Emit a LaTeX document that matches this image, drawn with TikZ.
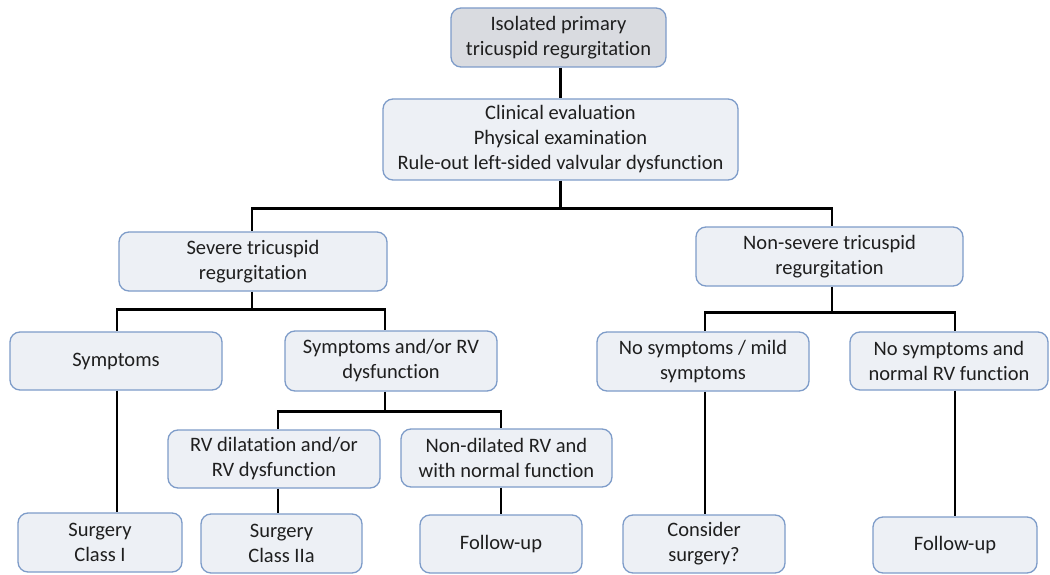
\documentclass[tikz,border=0pt]{standalone}
\usepackage{fontspec}
\setmainfont{Carlito}[Ligatures=NoCommon]
\usetikzlibrary{calc}
\definecolor{boxfill}{HTML}{EDF0F5}
\definecolor{topfill}{HTML}{D9DBE0}
\definecolor{boxline}{HTML}{7E9CC9}
\tikzset{
  box/.style={draw=boxline, line width=1.3pt, fill=boxfill, rounded corners=10pt,
    align=center, inner sep=0pt, font=\fontsize{20.5}{25}\selectfont, text=black!88},
  conn/.style={draw=black, line width=2.4pt}
}
\begin{document}
\begin{tikzpicture}[x=1pt,y=-1pt]
\useasboundingbox (0,0) rectangle (1050,575);
\fill[white] (0,0) rectangle (1050,575);
% nodes
\node[box,fill=topfill,minimum width=215pt,minimum height=59pt] (top) at (558.5,37.5) {Isolated primary\\tricuspid regurgitation};
\node[box,minimum width=355pt,minimum height=81pt] (clin) at (560.5,139.5) {Clinical evaluation\\Physical examination\\Rule-out left-sided valvular dysfunction};
\node[box,minimum width=268pt,minimum height=59pt] (sev) at (253,261.5) {Severe tricuspid\\regurgitation};
\node[box,minimum width=267pt,minimum height=59pt] (nsev) at (829.5,256.5) {Non-severe tricuspid\\regurgitation};
\node[box,minimum width=212pt,minimum height=58pt] (sym) at (116,361) {Symptoms};
\node[box,minimum width=212pt,minimum height=60pt] (symrv) at (391,361) {Symptoms and/or RV\\dysfunction};
\node[box,minimum width=212pt,minimum height=59pt] (nosym) at (703,361.5) {No symptoms / mild\\symptoms};
\node[box,minimum width=198pt,minimum height=58pt] (nosymrv) at (949,361) {No symptoms and\\normal RV function};
\node[box,minimum width=212pt,minimum height=58pt] (rvdil) at (274,459) {RV dilatation and/or\\RV dysfunction};
\node[box,minimum width=211pt,minimum height=58pt] (nondil) at (506.5,458) {Non-dilated RV and\\with normal function};
\node[box,minimum width=164pt,minimum height=59pt] (s1) at (100,542.5) {Surgery\\Class I};
\node[box,minimum width=161pt,minimum height=59pt] (s2) at (281.5,543.5) {Surgery\\Class IIa};
\node[box,minimum width=162pt,minimum height=58pt] (fu1) at (501,544) {Follow-up};
\node[box,minimum width=162pt,minimum height=58pt] (cons) at (704,544) {Consider\\surgery?};
\node[box,minimum width=164pt,minimum height=56pt] (fu2) at (955,545) {Follow-up};
% junctions
\coordinate (j1) at ($(clin.south)+(0,28)$);
\coordinate (j2) at ($(sev.south)+(-1,18)$);
\coordinate (j3) at ($(nsev.south)+(2.5,26)$);
\coordinate (j4) at ($(symrv.south)+(-6,20)$);
% connectors
\draw[conn] (top.south -| clin.north) -- (clin.north);
\draw[conn] (clin.south) -- (j1);
\draw[conn] (j1) -| ([xshift=-1pt]sev.north);
\draw[conn] (j1) -| ([xshift=2.5pt]nsev.north);
\draw[conn] ([xshift=-1pt]sev.south) -- (j2);
\draw[conn] (j2) -| ([xshift=1pt]sym.north);
\draw[conn] (j2) -| ([xshift=-6pt]symrv.north);
\draw[conn] ([xshift=2.5pt]nsev.south) -- (j3);
\draw[conn] (j3) -| ([xshift=2pt]nosym.north);
\draw[conn] (j3) -| ([xshift=6pt]nosymrv.north);
\draw[conn] ([xshift=1pt]sym.south) -- ([xshift=1pt]sym.south |- s1.north);
\draw[conn] ([xshift=-6pt]symrv.south) -- (j4);
\draw[conn] (j4) -| ([xshift=4pt]rvdil.north);
\draw[conn] (j4) -| ([xshift=-5.5pt]nondil.north);
\draw[conn] ([xshift=4pt]rvdil.south) -- ([xshift=4pt]rvdil.south |- s2.north);
\draw[conn] (fu1.north |- nondil.south) -- (fu1.north);
\draw[conn] ([xshift=2pt]nosym.south) -- ([xshift=2pt]nosym.south |- cons.north);
\draw[conn] (fu2.north |- nosymrv.south) -- (fu2.north);
\end{tikzpicture}
\end{document}
